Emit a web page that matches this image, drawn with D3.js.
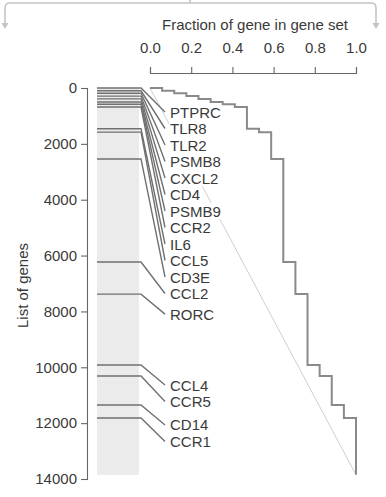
<!DOCTYPE html>
<html>
<head>
<meta charset="utf-8">
<script src="https://cdn.jsdelivr.net/npm/d3@7"></script>
<style>
  html, body { margin: 0; padding: 0; background: #fff; }
  svg { display: block; font-family: "Liberation Sans", Arial, sans-serif; }
</style>
</head>
<body>
<svg id="chart" width="386" height="497"></svg>
<script>
// Gene set members, in order of their rank in the gene list
const genes = ["PTPRC", "TLR8", "TLR2", "PSMB8", "CXCL2", "CD4", "PSMB9", "CCR2",
               "IL6", "CCL5", "CD3E", "CCL2", "RORC", "CCL4", "CCR5", "CD14", "CCR1"];
const ranks = [0, 100, 190, 290, 390, 500, 580, 680,
               1460, 1580, 2540, 6230, 7380, 9920, 10310, 11350, 11815];
const listSize = 13850;
const rankTicks = [0, 2000, 4000, 6000, 8000, 10000, 12000, 14000];
const fractionTicks = [0, 0.2, 0.4, 0.6, 0.8, 1.0];

const svg = d3.select("#chart");
const ink = "#3a3a3a";
const axisGray = "#666";

const x = d3.scaleLinear().domain([0, 1]).range([150, 356]);
const y = d3.scaleLinear().domain([0, 14000]).range([88, 479]);

// Light bracket across the top
const bracket = svg.append("g").attr("fill", "none").attr("stroke", "#c4c4c4").attr("stroke-width", 1.6);
bracket.append("path").attr("d", "M5,24 L5,8 Q5,3 10,3 L371,3 Q376,3 376,8 L376,24");
bracket.append("path").attr("d", "M190,3 L190,0");
svg.append("g").attr("fill", "#c4c4c4")
  .selectAll("path").data([5, 376]).join("path")
  .attr("d", d => `M${d - 3.5},23 L${d + 3.5},23 L${d},29 Z`);

// Top axis: cumulative fraction of the gene set
svg.append("text")
  .attr("x", 255).attr("y", 30)
  .attr("text-anchor", "middle")
  .attr("font-size", 15).attr("fill", ink)
  .text("Fraction of gene in gene set");

const xAxis = svg.append("g")
  .attr("transform", "translate(0,73)")
  .call(d3.axisTop(x).tickValues(fractionTicks).tickFormat(d3.format(".1f")).tickSize(6).tickPadding(14));
xAxis.selectAll("path, line").attr("stroke", axisGray).attr("stroke-width", 1.1);
xAxis.selectAll("text").attr("font-size", 15).attr("fill", ink).attr("font-family", "Liberation Sans, Arial, sans-serif");

// Left axis: rank in the gene list
const yAxis = svg.append("g")
  .attr("transform", "translate(87,0)")
  .call(d3.axisLeft(y).tickValues(rankTicks).tickFormat(d3.format("d")).tickSize(6).tickPadding(4));
yAxis.selectAll("path, line").attr("stroke", axisGray).attr("stroke-width", 1.1);
yAxis.selectAll("text").attr("font-size", 15).attr("fill", ink).attr("font-family", "Liberation Sans, Arial, sans-serif");

svg.append("text")
  .attr("transform", `translate(22,${(y(4000) + y(10000)) / 2 + 2}) rotate(-90)`)
  .attr("text-anchor", "middle")
  .attr("dominant-baseline", "central")
  .attr("font-size", 15).attr("fill", ink)
  .text("List of genes");

// Shaded strip standing for the ranked list
const stripL = 97, stripR = 139;
svg.append("rect")
  .attr("x", stripL).attr("y", y(0))
  .attr("width", stripR - stripL).attr("height", y(listSize) - y(0))
  .attr("fill", "#ebebeb");

// Null diagonal
svg.append("line")
  .attr("x1", x(0)).attr("y1", y(0))
  .attr("x2", x(1)).attr("y2", y(listSize))
  .attr("stroke", "#cfcfcf").attr("stroke-width", 1);

// Label placement: push each label down so neighbours never overlap
const rowH = 16.5;
const labelY = [];
ranks.forEach((r, i) => {
  let ly = y(r) + 20;
  if (i === 0) ly = Math.max(ly, y(0) + 24);
  else ly = Math.max(ly, labelY[i - 1] + rowH);
  labelY.push(ly);
});

const labelX = 170;
const marks = svg.append("g");
genes.forEach((g, i) => {
  const gy = y(ranks[i]);
  marks.append("path")
    .attr("d", `M${stripL},${gy} L${stripR + 2},${gy} L${labelX - 5},${labelY[i]}`)
    .attr("fill", "none").attr("stroke", "#707070").attr("stroke-width", 1.4);
});

const labels = svg.append("g");
genes.forEach((g, i) => {
  const t = labels.append("text")
    .attr("x", labelX).attr("y", labelY[i])
    .attr("dominant-baseline", "central")
    .attr("font-size", 15).attr("fill", ink)
    .text(g);
  const bb = t.node().getBBox();
  labels.insert("rect", "text")
    .attr("x", bb.x - 1).attr("y", labelY[i] - rowH / 2)
    .attr("width", bb.width + 2).attr("height", rowH)
    .attr("fill", "#fff");
});

// Running fraction of the gene set as we walk down the list
const stepPts = [[0, 0]];
ranks.forEach((r, i) => {
  stepPts.push([i / genes.length, r]);
  stepPts.push([(i + 1) / genes.length, r]);
});
stepPts.push([1, listSize]);

svg.append("path")
  .datum(stepPts)
  .attr("d", d3.line().x(d => x(d[0])).y(d => y(d[1])))
  .attr("fill", "none").attr("stroke", "#8a8a8a").attr("stroke-width", 2);
</script>
</body>
</html>
